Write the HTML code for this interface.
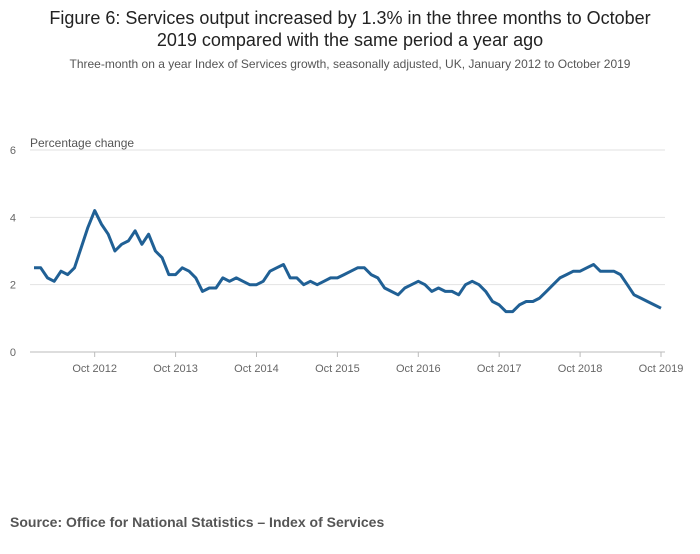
<!DOCTYPE html>
<html><head><meta charset="utf-8"><style>
body{margin:0;background:#fff;font-family:"Liberation Sans",sans-serif;}
</style></head><body>
<svg width="700" height="549" xmlns="http://www.w3.org/2000/svg">
<text x="350" y="24" text-anchor="middle" font-size="18" fill="#222">Figure 6: Services output increased by 1.3% in the three months to October</text>
<text x="350" y="46" text-anchor="middle" font-size="18" fill="#222">2019 compared with the same period a year ago</text>
<text x="350" y="68" text-anchor="middle" font-size="12" fill="#555">Three-month on a year Index of Services growth, seasonally adjusted, UK, January 2012 to October 2019</text>
<text x="30" y="147" font-size="12" fill="#555">Percentage change</text>
<g id="grid"></g><g id="xt"></g>
<path id="line" fill="none" stroke="#206095" stroke-width="3" stroke-linejoin="round"/>
<text x="10" y="527" font-size="14" font-weight="bold" fill="#555">Source: Office for National Statistics – Index of Services</text>
</svg>
<script>
const values=[2.5,2.5,2.2,2.1,2.4,2.3,2.5,3.1,3.7,4.2,3.8,3.5,
3.0,3.2,3.3,3.6,3.2,3.5,3.0,2.8,2.3,2.3,2.5,2.4,
2.2,1.8,1.9,1.9,2.2,2.1,2.2,2.1,2.0,2.0,2.1,2.4,
2.5,2.6,2.2,2.2,2.0,2.1,2.0,2.1,2.2,2.2,2.3,2.4,
2.5,2.5,2.3,2.2,1.9,1.8,1.7,1.9,2.0,2.1,2.0,1.8,
1.9,1.8,1.8,1.7,2.0,2.1,2.0,1.8,1.5,1.4,1.2,1.2,
1.4,1.5,1.5,1.6,1.8,2.0,2.2,2.3,2.4,2.4,2.5,2.6,
2.4,2.4,2.4,2.3,2.0,1.7,1.6,1.5,1.4,1.3];
const yTicks=[0,2,4,6];
const xTickLabels=["Oct 2012","Oct 2013","Oct 2014","Oct 2015","Oct 2016","Oct 2017","Oct 2018","Oct 2019"];
const xTickIdx=[9,21,33,45,57,69,81,93];
const NS="http://www.w3.org/2000/svg";
const x=i=>34+i*(661-34)/93, y=v=>352-v*(202/6);
const g=document.getElementById('grid');
yTicks.forEach(t=>{
 const l=document.createElementNS(NS,'line');
 l.setAttribute('x1',30);l.setAttribute('x2',665);l.setAttribute('y1',y(t));l.setAttribute('y2',y(t));
 l.setAttribute('stroke',t===0?'#bbb':'#e2e2e2');
 
 
 g.appendChild(l);
 const tx=document.createElementNS(NS,'text');
 tx.setAttribute('x',16);tx.setAttribute('y',y(t)+4);tx.setAttribute('font-size','11');tx.setAttribute('fill','#666');tx.setAttribute('text-anchor','end');
 tx.textContent=t;
 
 
 g.appendChild(tx);
});
const xt=document.getElementById('xt');
xTickIdx.forEach((idx,k)=>{
 const l=document.createElementNS(NS,'line');
 l.setAttribute('x1',x(idx));l.setAttribute('x2',x(idx));l.setAttribute('y1',352);l.setAttribute('y2',357);l.setAttribute('stroke','#bbb');
 
 
 xt.appendChild(l);
 const tx=document.createElementNS(NS,'text');
 tx.setAttribute('x',x(idx));tx.setAttribute('y',372);tx.setAttribute('font-size','11');tx.setAttribute('fill','#666');tx.setAttribute('text-anchor','middle');
 tx.textContent=xTickLabels[k];
 
 
 xt.appendChild(tx);
});
document.getElementById('line').setAttribute('d',values.map((v,i)=>(i?'L':'M')+x(i).toFixed(1)+','+y(v).toFixed(1)).join(''));
</script>
</body></html>
